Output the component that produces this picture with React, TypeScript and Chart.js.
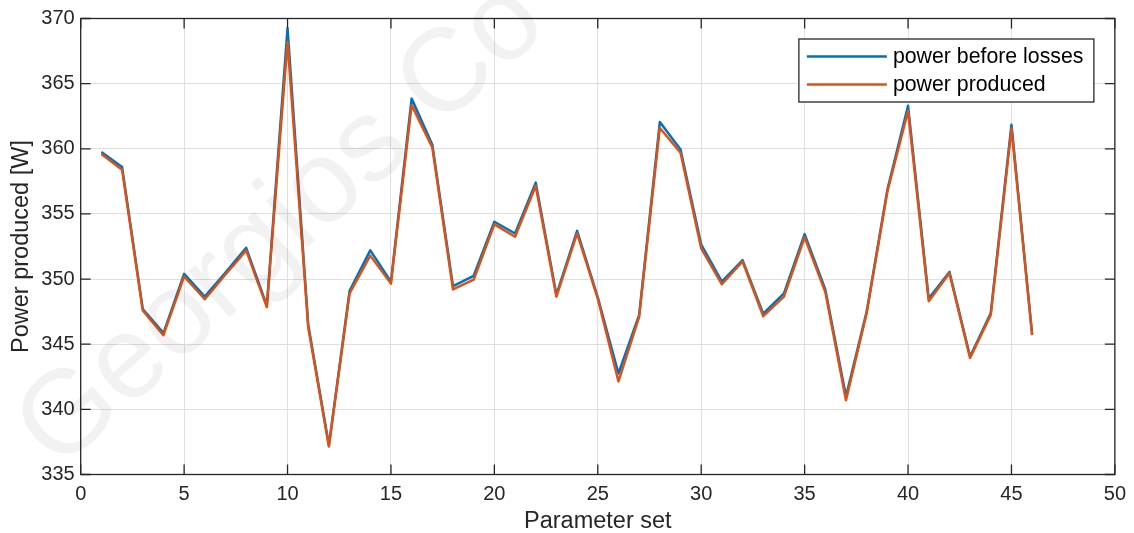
import React, { useEffect, useRef } from "react";
import { Chart, registerables } from "chart.js";

Chart.register(...registerables);

// Parameter set index on the x axis
const paramSets = [
  1, 2, 3, 4, 5, 6, 7, 8, 9, 10, 11, 12, 13, 14, 15, 16, 17, 18, 19, 20, 21, 22, 23,
  24, 25, 26, 27, 28, 29, 30, 31, 32, 33, 34, 35, 36, 37, 38, 39, 40, 41, 42, 43, 44, 45, 46,
];

// Power before losses [W]
const powerBeforeLosses = [
  359.75, 358.6, 347.7, 345.85, 350.4, 348.65, 350.5, 352.4, 347.95, 369.25, 346.5, 337.25,
  349.1, 352.2, 349.8, 363.85, 360.3, 349.45, 350.25, 354.4, 353.5, 357.4, 348.8, 353.7,
  348.6, 342.75, 347.25, 362.05, 359.95, 352.65, 349.8, 351.45, 347.35, 348.9, 353.45, 349.2,
  341.0, 347.5, 356.85, 363.3, 348.5, 350.55, 344.05, 347.4, 361.85, 345.75,
];

// Power produced after losses [W]
const powerProduced = [
  359.6, 358.4, 347.6, 345.7, 350.2, 348.45, 350.35, 352.2, 347.85, 368.2, 346.3, 337.15,
  348.9, 351.8, 349.65, 363.35, 360.1, 349.2, 349.95, 354.2, 353.25, 357.15, 348.65, 353.5,
  348.5, 342.15, 347.1, 361.6, 359.7, 352.35, 349.6, 351.35, 347.15, 348.65, 353.2, 349.0,
  340.7, 347.4, 356.7, 362.9, 348.3, 350.45, 343.95, 347.25, 361.55, 345.7,
];

const seriesLabels = ["power before losses", "power produced"];
const seriesColors = ["#0072BD", "#D95319"];

const xTicks = [0, 5, 10, 15, 20, 25, 30, 35, 40, 45, 50];
const yTicks = [335, 340, 345, 350, 355, 360, 365, 370];

const xTitle = "Parameter set";
const yTitle = "Power produced [W]";
const watermarkText = "Georgios Co";

const FONT = "'Liberation Sans', Arial, Helvetica, sans-serif";
const AXIS_COLOR = "#262626";

// Box around the axes with inward tick marks, plus the boxed legend
const framePlugin = {
  id: "frame",
  afterDatasetsDraw(chart: any) {
    const { ctx, chartArea: a, scales } = chart;
    const xs = scales.x;
    const ys = scales.y;
    const tickLen = 10;
    ctx.save();
    ctx.strokeStyle = AXIS_COLOR;
    ctx.lineWidth = 1.3;
    ctx.strokeRect(a.left, a.top, a.right - a.left, a.bottom - a.top);
    ctx.beginPath();
    for (const v of xTicks) {
      const px = xs.getPixelForValue(v);
      ctx.moveTo(px, a.bottom);
      ctx.lineTo(px, a.bottom - tickLen);
      ctx.moveTo(px, a.top);
      ctx.lineTo(px, a.top + tickLen);
    }
    for (const v of yTicks) {
      const py = ys.getPixelForValue(v);
      ctx.moveTo(a.left, py);
      ctx.lineTo(a.left + tickLen, py);
      ctx.moveTo(a.right, py);
      ctx.lineTo(a.right - tickLen, py);
    }
    ctx.stroke();

    // legend box in the upper right corner
    const lw = 295;
    const lh = 63;
    const lx = a.right - 316;
    const ly = a.top + 20.5;
    ctx.fillStyle = "#ffffff";
    ctx.fillRect(lx, ly, lw, lh);
    ctx.lineWidth = 1.3;
    ctx.strokeStyle = AXIS_COLOR;
    ctx.strokeRect(lx, ly, lw, lh);
    ctx.font = `21.3px ${FONT}`;
    ctx.textBaseline = "middle";
    ctx.textAlign = "left";
    chart.data.datasets.forEach((ds: any, i: number) => {
      const rowY = ly + 17.5 + i * 28;
      ctx.strokeStyle = ds.borderColor;
      ctx.lineWidth = 2.5;
      ctx.beginPath();
      ctx.moveTo(lx + 8, rowY);
      ctx.lineTo(lx + 88, rowY);
      ctx.stroke();
      ctx.fillStyle = "#000000";
      ctx.fillText(ds.label, lx + 94, rowY + 1);
    });
    ctx.restore();
  },
  afterDraw(chart: any) {
    const { ctx } = chart;
    ctx.save();
    ctx.translate(58, 472);
    ctx.rotate((-42 * Math.PI) / 180);
    ctx.font = `118px ${FONT}`;
    ctx.fillStyle = "rgba(0,0,0,0.05)";
    ctx.textBaseline = "alphabetic";
    ctx.textAlign = "left";
    ctx.fillText(watermarkText, 0, 0);
    ctx.restore();
  },
};

export default function App() {
  const canvasRef = useRef<HTMLCanvasElement | null>(null);

  useEffect(() => {
    const canvas = canvasRef.current;
    if (!canvas) return;

    const makeData = (vals: number[]) => paramSets.map((x, i) => ({ x, y: vals[i] }));

    const chart = new Chart(canvas, {
      type: "line",
      data: {
        datasets: [
          {
            label: seriesLabels[0],
            data: makeData(powerBeforeLosses),
            borderColor: seriesColors[0],
            backgroundColor: seriesColors[0],
            borderWidth: 2.5,
            borderJoinStyle: "round",
            pointRadius: 0,
            tension: 0,
            order: 1,
          },
          {
            label: seriesLabels[1],
            data: makeData(powerProduced),
            borderColor: seriesColors[1],
            backgroundColor: seriesColors[1],
            borderWidth: 2.5,
            borderJoinStyle: "round",
            pointRadius: 0,
            tension: 0,
            order: 0,
          },
        ],
      },
      options: {
        responsive: false,
        animation: false,
        devicePixelRatio: 1,
        layout: { padding: { top: 18.5, right: 19, left: 0, bottom: 0 } },
        plugins: {
          legend: { display: false },
          tooltip: { enabled: false },
        },
        scales: {
          x: {
            type: "linear",
            min: 0,
            max: 50,
            afterBuildTicks: (s: any) => {
              s.ticks = xTicks.map((v) => ({ value: v }));
            },
            afterFit: (s: any) => {
              s.height = 58.5;
            },
            grid: { color: "#dfdfdf", lineWidth: 1, drawTicks: false },
            border: { display: false },
            ticks: {
              color: AXIS_COLOR,
              font: { family: FONT, size: 20 },
              padding: 8,
              maxRotation: 0,
              autoSkip: false,
            },
            title: {
              display: true,
              text: xTitle,
              color: AXIS_COLOR,
              font: { family: FONT, size: 23.5, lineHeight: 1 },
              padding: { top: 0, bottom: 0 },
            },
          },
          y: {
            type: "linear",
            min: 335,
            max: 370,
            afterBuildTicks: (s: any) => {
              s.ticks = yTicks.map((v) => ({ value: v }));
            },
            afterFit: (s: any) => {
              s.width = 80.7;
            },
            grid: { color: "#dfdfdf", lineWidth: 1, drawTicks: false },
            border: { display: false },
            ticks: {
              color: AXIS_COLOR,
              font: { family: FONT, size: 20 },
              padding: 6,
              autoSkip: false,
            },
            title: {
              display: true,
              text: yTitle,
              color: AXIS_COLOR,
              font: { family: FONT, size: 23.5, lineHeight: 1 },
              padding: { top: 10, bottom: 0 },
            },
          },
        },
      },
      plugins: [framePlugin],
    });

    return () => chart.destroy();
  }, []);

  return (
    <div
      style={{
        position: "absolute",
        left: 0,
        top: 0,
        width: 1134,
        height: 533,
        background: "#ffffff",
      }}
    >
      <canvas ref={canvasRef} width={1134} height={533} />
    </div>
  );
}
